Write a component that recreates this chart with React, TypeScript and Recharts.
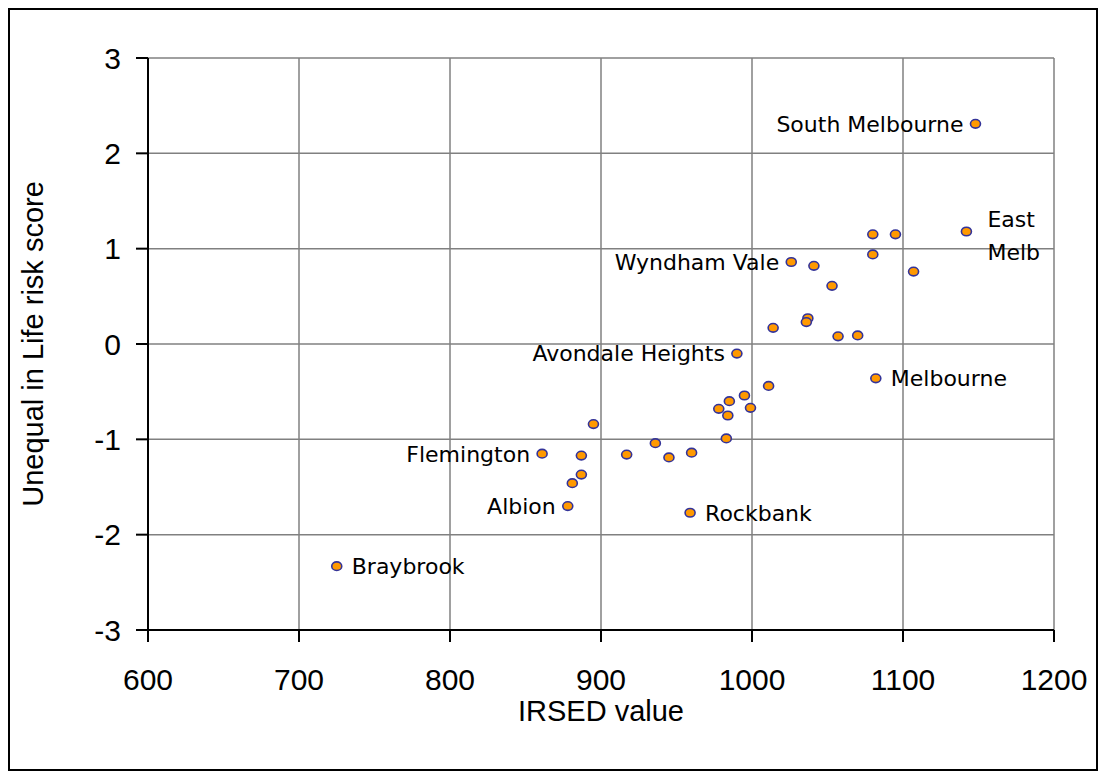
import React from 'react';
import { ScatterChart, Scatter, XAxis, YAxis, CartesianGrid, Label } from 'recharts';

// IRSED value (x) and Unequal in Life risk score (y) per suburb
const irsed = [1148, 1142, 1080, 1095, 1080, 1107, 1026, 1041, 1053, 1014, 1037, 1036, 1057, 1070, 1082, 990, 1011, 995, 999, 985, 978, 984, 983, 960, 959, 945, 936, 917, 895, 887, 887, 881, 878, 861, 725];
const riskScore = [2.31, 1.18, 1.15, 1.15, 0.94, 0.76, 0.86, 0.82, 0.61, 0.17, 0.27, 0.23, 0.08, 0.09, -0.36, -0.10, -0.44, -0.54, -0.67, -0.60, -0.68, -0.75, -0.99, -1.14, -1.77, -1.19, -1.04, -1.16, -0.84, -1.17, -1.37, -1.46, -1.70, -1.15, -2.33];
const pointLabels = ['South Melbourne', 'East\nMelb', '', '', '', '', 'Wyndham Vale', '', '', '', '', '', '', '', 'Melbourne', 'Avondale Heights', '', '', '', '', '', '', '', '', 'Rockbank', '', '', '', '', '', '', '', 'Albion', 'Flemington', 'Braybrook'];

const xTicks = [600, 700, 800, 900, 1000, 1100, 1200];
const yTicks = [-3, -2, -1, 0, 1, 2, 3];

// label placement (style): which side of the marker the label sits
const leftLabels = new Set(['South Melbourne', 'Wyndham Vale', 'Avondale Heights', 'Flemington', 'Albion']);

const data = irsed.map((x, i) => ({ x, y: riskScore[i], name: pointLabels[i] }));

const LABEL_FONT = '"DejaVu Sans", Verdana, sans-serif';
const AXIS_FONT = '"Liberation Sans", Arial, sans-serif';

const Marker = (props: any) => {
  const { cx, cy, payload } = props;
  const name: string = payload?.name || '';
  let label: React.ReactNode = null;
  if (name) {
    const lines = name.split('\n');
    const left = leftLabels.has(name);
    if (lines.length > 1) {
      label = (
        <text x={cx + 21} y={cy} fontFamily={LABEL_FONT} fontSize={22} fill="#000" textAnchor="start">
          <tspan x={cx + 21} y={cy - 5}>{lines[0]}</tspan>
          <tspan x={cx + 21} y={cy + 28}>{lines[1]}</tspan>
        </text>
      );
    } else {
      label = (
        <text
          x={left ? cx - 12 : cx + 15}
          y={cy}
          dy="0.36em"
          fontFamily={LABEL_FONT}
          fontSize={22}
          fill="#000"
          textAnchor={left ? 'end' : 'start'}
        >
          {name}
        </text>
      );
    }
  }
  return (
    <g>
      <ellipse cx={cx} cy={cy} rx={5} ry={4.3} fill="#FF9900" stroke="#333399" strokeWidth={1.6} />
      {label}
    </g>
  );
};

export default function App() {
  return (
    <div style={{ width: 1090, height: 763, border: '2px solid #000', boxSizing: 'border-box', background: '#fff' }}>
      <ScatterChart width={1086} height={759} margin={{ top: 48, right: 42, bottom: 0, left: 0 }}>
        <CartesianGrid stroke="#808080" strokeWidth={1.5} />
        <XAxis
          type="number"
          dataKey="x"
          domain={[600, 1200]}
          ticks={xTicks}
          interval={0}
          height={139}
          tickSize={12}
          tickMargin={27}
          axisLine={{ stroke: '#000', strokeWidth: 2 }}
          tickLine={{ stroke: '#000', strokeWidth: 2 }}
          tick={{ fill: '#000', fontSize: 30, fontFamily: AXIS_FONT }}
          allowDataOverflow
        >
          <Label value="IRSED value" position="insideTop" offset={70} fill="#000" fontSize={29} fontFamily={AXIS_FONT} />
        </XAxis>
        <YAxis
          type="number"
          dataKey="y"
          domain={[-3, 3]}
          ticks={yTicks}
          interval={0}
          width={138}
          tickSize={12}
          tickMargin={15}
          axisLine={{ stroke: '#000', strokeWidth: 2 }}
          tickLine={{ stroke: '#000', strokeWidth: 2 }}
          tick={{ fill: '#000', fontSize: 30, fontFamily: AXIS_FONT }}
          allowDataOverflow
        >
          <Label
            content={(p: any) => {
              const vb = p.viewBox || {};
              const cx = (vb.x ?? 0) + 23;
              const cy = (vb.y ?? 0) + (vb.height ?? 0) / 2;
              return (
                <text
                  x={cx}
                  y={cy}
                  transform={`rotate(-90, ${cx}, ${cy})`}
                  textAnchor="middle"
                  dominantBaseline="central"
                  fill="#000"
                  fontSize={29}
                  fontFamily={AXIS_FONT}
                >
                  Unequal in Life risk score
                </text>
              );
            }}
          />
        </YAxis>
        <Scatter data={data} shape={Marker} isAnimationActive={false} />
      </ScatterChart>
    </div>
  );
}
